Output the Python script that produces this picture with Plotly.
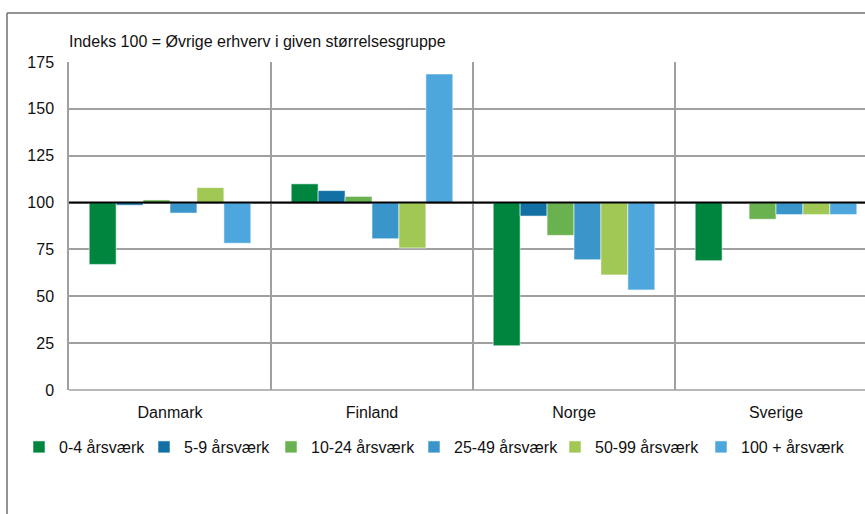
import plotly.graph_objects as go

countries = ["Danmark", "Finland", "Norge", "Sverige"]
series_names = ["0-4 årsværk", "5-9 årsværk", "10-24 årsværk", "25-49 årsværk", "50-99 årsværk", "100 + årsværk"]
v_0_4 = [67, 110, 23.6, 69]
v_5_9 = [98.6, 106.4, 92.8, 100]
v_10_24 = [101.4, 103.3, 82.5, 91.1]
v_25_49 = [94.4, 80.7, 69.5, 93.6]
v_50_99 = [108, 75.8, 61.4, 93.6]
v_100p = [78.3, 168.6, 53.4, 93.6]
series_values = [v_0_4, v_5_9, v_10_24, v_25_49, v_50_99, v_100p]
colors = ["#00853F", "#1270A5", "#6AB150", "#3A96CA", "#A1C855", "#4DA6DC"]
y_ticks = [0, 25, 50, 75, 100, 125, 150, 175]
base_value = 100
title_text = "Indeks 100 = Øvrige erhverv i given størrelsesgruppe"

W, H = 865, 514
ml, mr, mt, mb = 69, 0, 62, 124
pw, ph = W - ml - mr, H - mt - mb

def px_x(px):
    return (px - ml) / pw

def px_y(py):
    return (H - mb - py) / ph

font = dict(family="Liberation Sans, Arial, sans-serif", size=16, color="#111111")

# legend text start positions (pixels) in the reference
legend_text_px = [57, 182, 309, 452, 593, 739]

fig = go.Figure()
for i, (name, vals, col) in enumerate(zip(series_names, series_values, colors)):
    lname = "legend" if i == 0 else f"legend{i+1}"
    fig.add_trace(go.Bar(
        name=name, x=countries, y=[v - base_value for v in vals], base=base_value,
        marker=dict(color=col, line=dict(color="rgba(255,255,255,0.7)", width=0.8)),
        customdata=vals, hovertemplate="%{x}: %{customdata}<extra>" + name + "</extra>",
        legend=lname,
    ))
    fig.update_layout({lname: dict(orientation="h", x=px_x(legend_text_px[i] - 38), y=px_y(447),
                                   xanchor="left", yanchor="middle", font=font, itemwidth=30,
                                   bgcolor="rgba(0,0,0,0)")})

cat_px = 202.0
fig.update_layout(
    width=W, height=H,
    margin=dict(l=ml, r=mr, t=mt, b=mb),
    paper_bgcolor="white", plot_bgcolor="white",
    font=font,
    barmode="group", bargap=0.2, bargroupgap=0,
    showlegend=True,
    xaxis=dict(type="category", range=[-0.5, -0.5 + pw / cat_px], tickson="boundaries",
               showgrid=True, gridcolor="#A0A0A0", gridwidth=1.5,
               showline=False, ticks="", ticklabelstandoff=11, tickfont=font,
               zeroline=False),
    yaxis=dict(range=[0, 175], tickvals=y_ticks, showgrid=True, gridcolor="#A0A0A0",
               gridwidth=1.5, zeroline=False, showline=True, linecolor="#A0A0A0",
               linewidth=1.5, ticks="", ticklabelstandoff=10, tickfont=font),
    annotations=[dict(text=title_text, xref="paper", yref="paper", x=px_x(67), y=px_y(42),
                      xanchor="left", yanchor="middle", showarrow=False, font=font)],
    shapes=[
        dict(type="line", xref="paper", yref="y", x0=0, x1=1, y0=base_value, y1=base_value,
             line=dict(color="black", width=2)),
        dict(type="line", xref="paper", yref="paper", x0=px_x(7), x1=px_x(7), y0=px_y(13), y1=px_y(514),
             line=dict(color="#707070", width=1.5)),
        dict(type="line", xref="paper", yref="paper", x0=px_x(7), x1=1.0, y0=px_y(13), y1=px_y(13),
             line=dict(color="#707070", width=1.5)),
        dict(type="line", xref="paper", yref="paper", x0=0, x1=1.0, y0=0, y1=0,
             line=dict(color="#A0A0A0", width=1.5)),
    ],
)

fig.write_html("out.html", config={"displayModeBar": False},
               post_script="document.body.style.margin='0px';")
